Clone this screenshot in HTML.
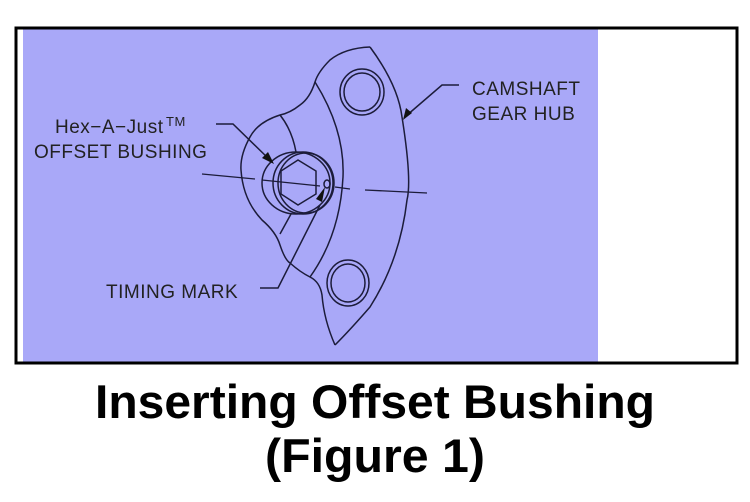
<!DOCTYPE html>
<html><head><style>
body{margin:0;background:#fff;}
</style></head><body>
<svg width="750" height="502" viewBox="0 0 750 502" xmlns="http://www.w3.org/2000/svg" style="display:block">
<rect x="0" y="0" width="750" height="502" fill="#fff"/>
<rect x="23" y="29" width="575" height="333" fill="#a9a8f8"/>
<rect x="16" y="28" width="721" height="335" fill="none" stroke="#000" stroke-width="3"/>
<g fill="none" stroke="#1c1c3a" stroke-width="1.5">
<path d="M370,47 Q398,85 402,117 Q412,180 407,200 Q400,260 370,307 Q350,330 335,345"/>
<path d="M370,47 Q345,48 330,60 Q318,72 315,82 Q310,98 300,105 Q290,113 280,115 Q258,122 250,137 Q240,155 241,170 Q243,200 262,220 Q276,232 280,245 Q285,260 290,263 Q300,272 310,277 Q320,282 322,295 Q324,320 335,345"/>
<path d="M315,82 Q345,130 343,177 Q340,235 310,277"/>
<path d="M280,115 Q292,130 296,152"/>
<path d="M291,214 Q285,225 280,234"/>
<ellipse cx="362" cy="92" rx="22" ry="23"/>
<ellipse cx="362" cy="92" rx="18" ry="19"/>
<ellipse cx="348" cy="283" rx="21" ry="23"/>
<ellipse cx="348" cy="283" rx="17" ry="19"/>
<ellipse cx="296" cy="183" rx="34" ry="31"/>
<ellipse cx="303" cy="183" rx="30" ry="31"/>
<ellipse cx="306" cy="183" rx="28" ry="30"/>
<polygon points="298,160 316,171 316,194 298,205 281,194 281,171"/>
<ellipse cx="327" cy="184" rx="3" ry="4"/>
<path d="M202,174 L255,179 M262,180 L320,186 M335,187 L350,189 M365,190 L427,193" stroke-width="1.3"/>
<path d="M216,124 L233,124 L270,160"/>
<path d="M459,85 L442,85 L406,116"/>
<path d="M260,288 L278,288 L320,205"/>
</g>
<g fill="#111">
<polygon points="274,164 262,158 268,152"/>
<polygon points="403,120 406,108 412,113"/>
<polygon points="325,187 322,202 316,199"/>
</g>
<g font-family="Liberation Sans, sans-serif" font-size="19" fill="#222" style="letter-spacing:0.5px">
<text x="55" y="133">Hex−A−Just</text>
<text x="166" y="126" font-size="13">TM</text>
<text x="34" y="158">OFFSET BUSHING</text>
<text x="472" y="95">CAMSHAFT</text>
<text x="472" y="120">GEAR HUB</text>
<text x="106" y="298">TIMING MARK</text>
</g>
<g font-family="Liberation Sans, sans-serif" font-weight="bold" font-size="47" fill="#000">
<text x="95" y="418" textLength="560" lengthAdjust="spacingAndGlyphs">Inserting Offset Bushing</text>
<text x="265" y="472" textLength="220" lengthAdjust="spacingAndGlyphs">(Figure 1)</text>
</g>
</svg>
</body></html>
